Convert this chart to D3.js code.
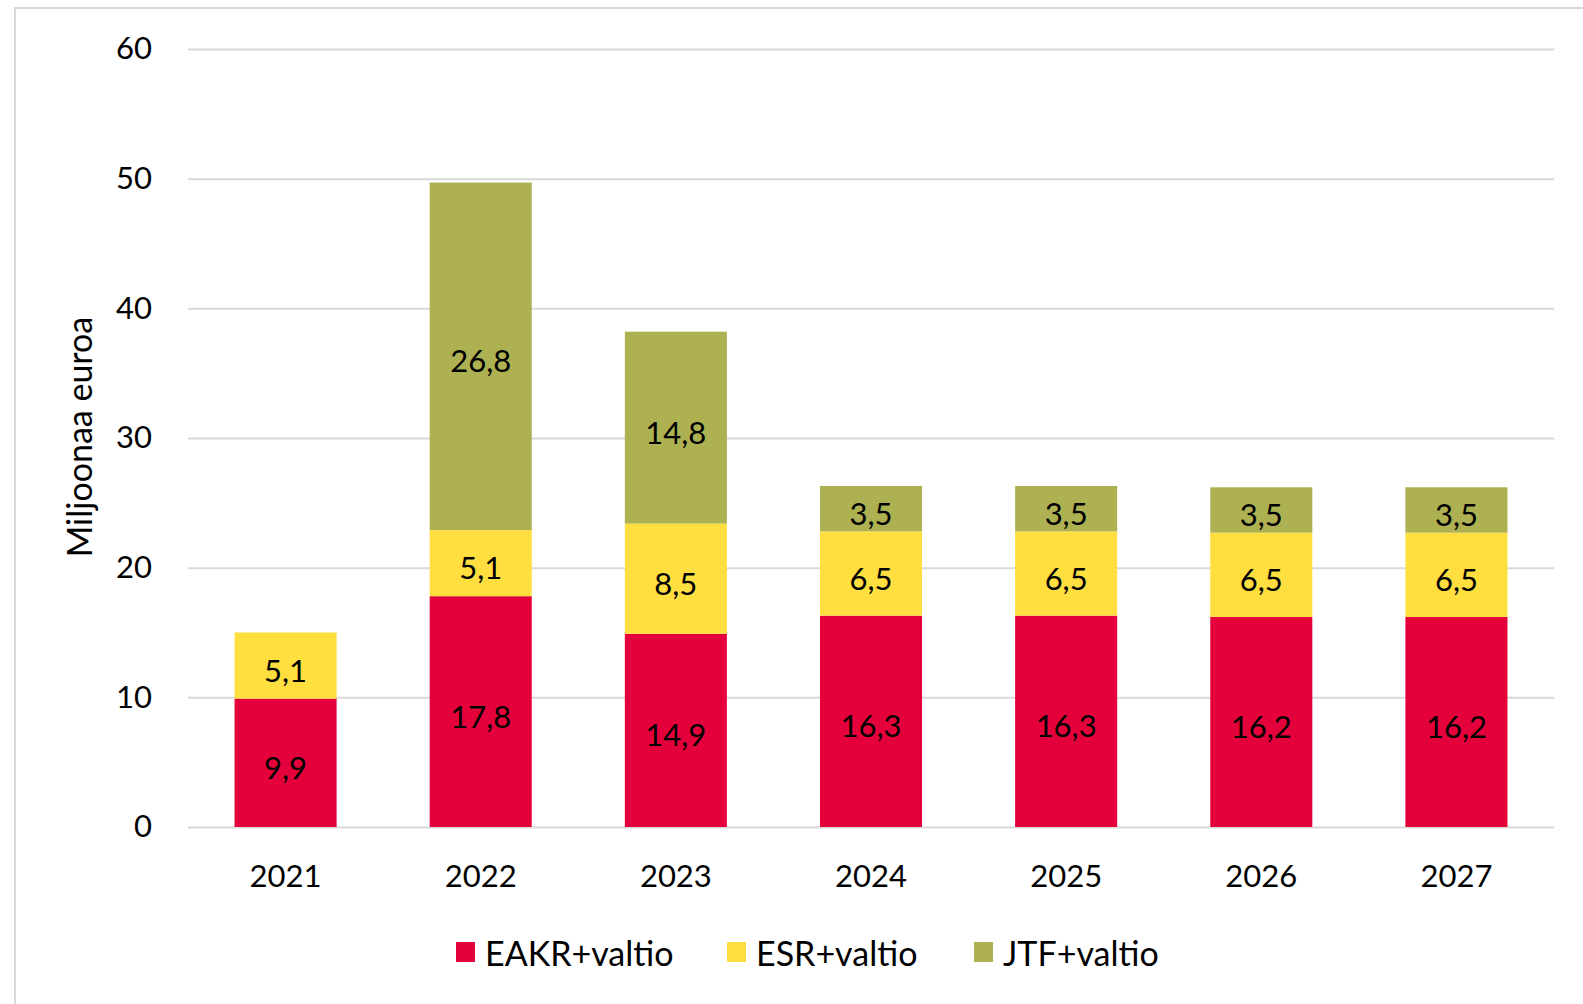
<!DOCTYPE html>
<html>
<head>
<meta charset="utf-8">
<script src="https://cdn.jsdelivr.net/npm/d3@7"></script>
<style>
  body { margin: 0; background: #fff; }
  svg { display: block; font-family: Lato, "Open Sans", sans-serif; }
</style>
</head>
<body>
<div id="chart"></div>
<script>
  const years = ['2021', '2022', '2023', '2024', '2025', '2026', '2027'];
  const seriesNames = ['EAKR+valtio', 'ESR+valtio', 'JTF+valtio'];
  const eakr = [9.9, 17.8, 14.9, 16.3, 16.3, 16.2, 16.2];
  const esr = [5.1, 5.1, 8.5, 6.5, 6.5, 6.5, 6.5];
  const jtf = [0, 26.8, 14.8, 3.5, 3.5, 3.5, 3.5];
  const yTicks = [0, 10, 20, 30, 40, 50, 60];
  const colors = ['#e4003a', '#ffde40', '#adb152'];

  const width = 1583, height = 1004;
  const margins = {top: 49, right: 29, bottom: 177, left: 188};
  const fontFamily = 'Lato, "Open Sans", sans-serif';

  // table for d3.stack
  const table = years.map((y, i) => ({year: y, [seriesNames[0]]: eakr[i], [seriesNames[1]]: esr[i], [seriesNames[2]]: jtf[i]}));
  const stacked = d3.stack().keys(seriesNames)(table);

  const svg = d3.select('#chart')
    .append('svg')
    .attr('width', width)
    .attr('height', height);

  // light frame of the chart area
  svg.append('path')
    .attr('d', `M15,${height} V8 H${width}`)
    .attr('fill', 'none')
    .attr('stroke', '#d9d9d9')
    .attr('stroke-width', 2);

  const xScale = d3.scaleBand()
    .domain(years)
    .range([margins.left, width - margins.right])
    .paddingInner(0.477)
    .paddingOuter(0.2385);

  const yScale = d3.scaleLinear()
    .domain([0, 60])
    .range([height - margins.bottom, margins.top]);

  // gridlines
  const yAxis = d3.axisLeft(yScale)
    .tickValues(yTicks)
    .tickSize(-(width - margins.right - margins.left))
    .tickPadding(36)
    .tickFormat(d => d);

  const yGroup = svg.append('g')
      .attr('transform', `translate(${margins.left}, 0)`)
    .call(yAxis)
      .attr('font-family', fontFamily);
  yGroup.select('.domain').remove();
  yGroup.selectAll('.tick line')
    .attr('stroke', '#d9d9d9')
    .attr('stroke-width', 2);
  yGroup.selectAll('.tick text')
    .attr('fill', '#000')
    .style('font-size', '31px');

  // bars
  const color = d3.scaleOrdinal().domain(seriesNames).range(colors);

  const layers = svg.append('g')
    .selectAll('g')
    .data(stacked)
    .join('g')
      .attr('fill', d => color(d.key));

  layers.selectAll('rect')
    .data(d => d.filter(s => s[1] - s[0] > 0))
    .join('rect')
      .attr('x', d => xScale(d.data.year))
      .attr('y', d => yScale(d[1]))
      .attr('width', xScale.bandwidth())
      .attr('height', d => yScale(d[0]) - yScale(d[1]));

  // value labels
  layers.selectAll('text')
    .data(d => d.filter(s => s[1] - s[0] > 0))
    .join('text')
      .attr('x', d => xScale(d.data.year) + xScale.bandwidth() / 2)
      .attr('y', d => yScale((d[0] + d[1]) / 2) + 4)
      .attr('text-anchor', 'middle')
      .attr('dominant-baseline', 'central')
      .attr('fill', '#000')
      .style('font-size', '31px')
      .text(d => d3.format('.1f')(d[1] - d[0]).replace('.', ','));

  // x axis labels
  const xAxis = d3.axisBottom(xScale).tickSize(0).tickPadding(38);
  const xGroup = svg.append('g')
      .attr('transform', `translate(0, ${height - margins.bottom})`)
    .call(xAxis)
      .attr('font-family', fontFamily);
  xGroup.select('.domain').remove();
  xGroup.selectAll('text')
    .attr('fill', '#000')
    .style('font-size', '31px');

  // y axis title
  svg.append('text')
    .attr('transform', `translate(92, 437) rotate(-90)`)
    .attr('text-anchor', 'middle')
    .style('font-size', '34px')
    .text('Miljoonaa euroa');

  // legend
  const legendX = [456, 727, 974];
  const legend = svg.append('g')
    .selectAll('g')
    .data(seriesNames)
    .join('g')
      .attr('transform', (d, i) => `translate(${legendX[i]}, 952)`);

  legend.append('rect')
    .attr('x', 0)
    .attr('y', -10)
    .attr('width', 19)
    .attr('height', 20)
    .attr('fill', d => color(d));

  legend.append('text')
    .attr('x', 29)
    .attr('y', 0)
    .attr('dominant-baseline', 'central')
    .style('font-size', '34px')
    .text(d => d);
</script>
</body>
</html>
